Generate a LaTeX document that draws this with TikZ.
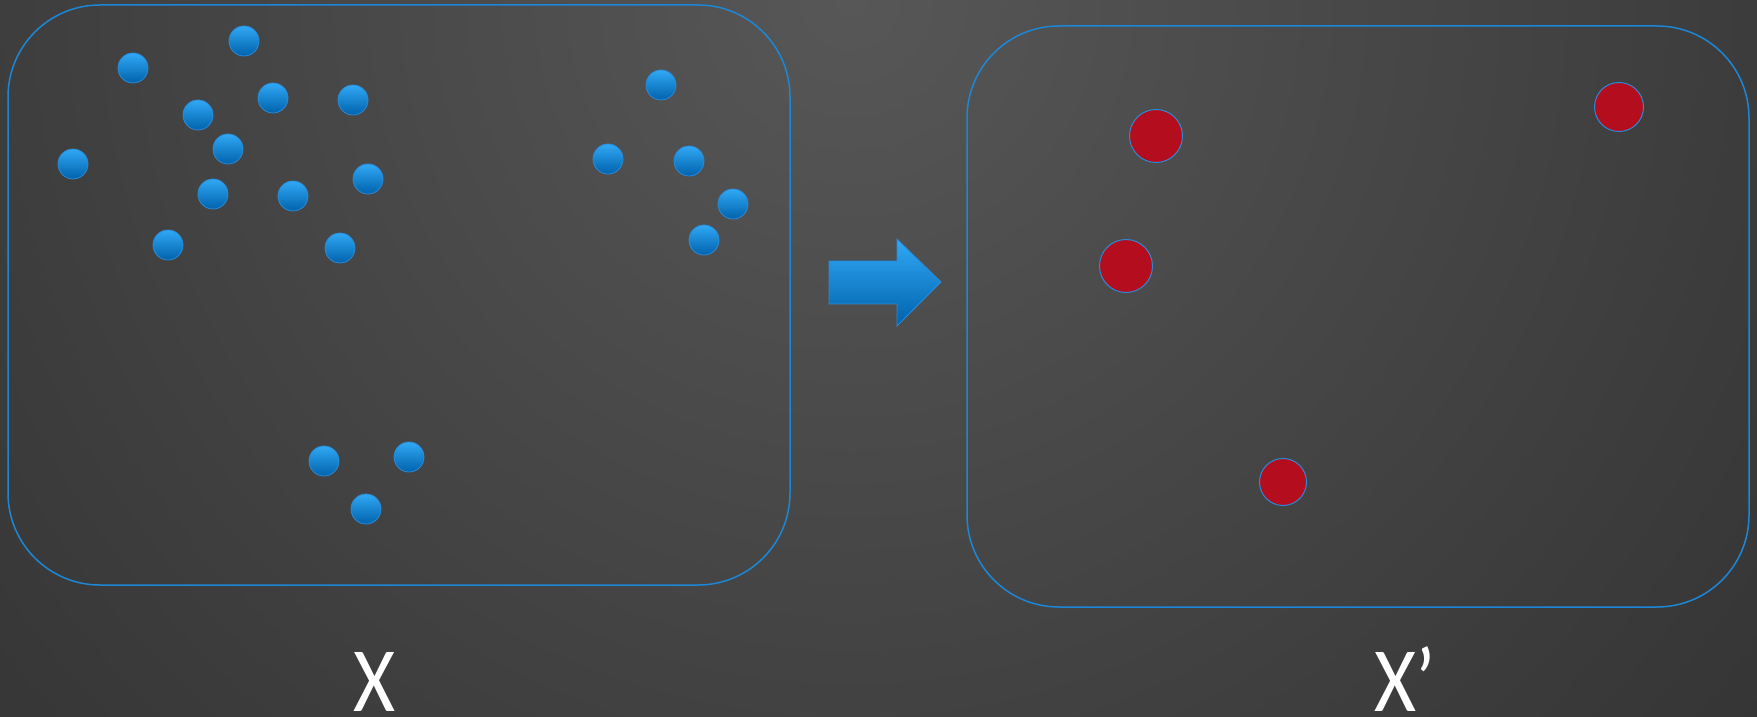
\documentclass[tikz,border=0pt]{standalone}
\usepackage{fontspec}
\setmainfont{Carlito}
\usetikzlibrary{positioning}

\definecolor{bglight}{HTML}{575757}
\definecolor{bgmid}{HTML}{3C3C3C}
\definecolor{bgdim}{HTML}{2C2C2C}
\definecolor{bgdark}{HTML}{1C1C1C}
\definecolor{frameblue}{HTML}{1C87D6}
\definecolor{balltop}{HTML}{31A8F5}
\definecolor{ballbot}{HTML}{0062AC}
\definecolor{ballrim}{HTML}{2A8AD8}
\definecolor{redfill}{HTML}{B40D1E}

\pgfdeclareradialshading{bgshade}{\pgfpoint{0bp}{0bp}}{%
  color(0bp)=(bglight); color(18bp)=(bgmid); color(30bp)=(bgdim);
  color(42bp)=(bgdark); color(50bp)=(bgdark)}

\tikzset{
  setbox/.style={draw=frameblue, line width=1.5pt, rounded corners=92pt},
  bball/.style={circle, minimum size=30pt, inner sep=0pt, draw=ballrim,
    line width=0.8pt, top color=balltop, bottom color=ballbot},
  rball/.style={circle, inner sep=0pt, draw=ballrim, line width=1pt, fill=redfill},
  setlabel/.style={text=white, inner sep=0pt, anchor=base, xscale=0.88,
    font=\fontsize{92}{92}\selectfont}
}

\begin{document}
\begin{tikzpicture}[x=1pt, y=1pt]

\useasboundingbox (0,0) rectangle (1757,716);
\begin{scope}
\clip (0,0) rectangle (1757,716);
\shade[shading=bgshade] (850,716) +(-1250,-1250) rectangle +(1250,1250);
\end{scope}

% the two sets
\draw[setbox] (8,131) rectangle (790,711);
\draw[setbox] (967,109) rectangle (1749,690);

% points of X
\node[bball] (b1) at (133,648) {};
\node[bball] (b2) at (244,675) {};
\node[bball] (b3) at (198,601) {};
\node[bball] (b4) at (273,618) {};
\node[bball] (b5) at (353,616) {};
\node[bball] (b6) at (73,552) {};
\node[bball] (b7) at (228,567) {};
\node[bball] (b8) at (213,522) {};
\node[bball] (b9) at (293,520) {};
\node[bball] (b10) at (368,537) {};
\node[bball] (b11) at (168,471) {};
\node[bball] (b12) at (340,468) {};

\node[bball] (b13) at (661,631) {};
\node[bball] (b14) at (608,557) {};
\node[bball] (b15) at (689,555) {};
\node[bball] (b16) at (733,512) {};
\node[bball] (b17) at (704,476) {};

\node[bball] (b18) at (324,255) {};
\node[bball] (b19) at (409,259) {};
\node[bball] (b20) at (366,207) {};

% block arrow
\filldraw[draw=ballrim, line width=0.8pt, top color=balltop, bottom color=ballbot]
  (829,455) -- (897,455) -- (897,477) -- (941,434) -- (897,390)
  -- (897,412) -- (829,412) -- cycle;

% points of X'
\node[rball, minimum size=53pt] (r1) at (1156,580) {};
\node[rball, minimum size=53pt] (r2) at (1126,450) {};
\node[rball, minimum size=47pt] (r3) at (1283,234) {};
\node[rball, minimum size=49pt] (r4) at (1619,609) {};

% labels
\node[setlabel] (lx) at (375,5) {X};
\node[setlabel] (lxp) at (1405,5) {X’};

\end{tikzpicture}
\end{document}
